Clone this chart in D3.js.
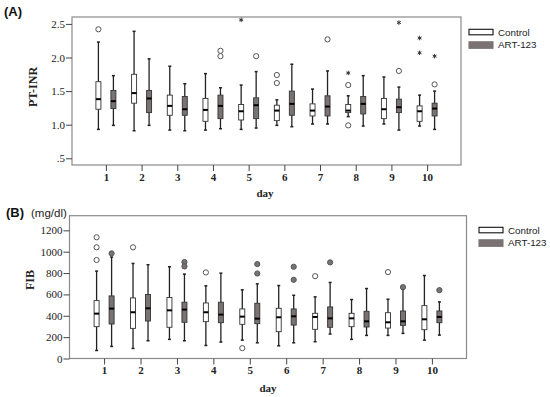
<!DOCTYPE html>
<html>
<head>
<meta charset="utf-8">
<script src="https://cdn.jsdelivr.net/npm/d3@7"></script>
<style>
  html, body { margin: 0; padding: 0; background: #fff; }
  svg { display: block; }
</style>
</head>
<body>
<svg id="chart" width="550" height="397"></svg>
<script>
// ---------- DATA ----------
const days = [1, 2, 3, 4, 5, 6, 7, 8, 9, 10];
const groups = ["Control", "ART-123"];

// Panel A: PT-INR
const inrCtrlLow    = [0.93, 0.91, 0.92, 0.92, 0.93, 0.99, 1.01, 1.12, 1.01, 0.98];
const inrCtrlQ1     = [1.23, 1.32, 1.14, 1.05, 1.07, 1.06, 1.13, 1.18, 1.09, 1.05];
const inrCtrlMed    = [1.38, 1.47, 1.28, 1.22, 1.20, 1.21, 1.21, 1.21, 1.23, 1.20];
const inrCtrlQ3     = [1.64, 1.75, 1.44, 1.39, 1.30, 1.29, 1.31, 1.30, 1.39, 1.28];
const inrCtrlHigh   = [2.23, 2.39, 1.87, 1.76, 1.59, 1.37, 1.53, 1.43, 1.71, 1.44];
const inrCtrlOut    = [[2.42], [], [], [], [], [1.74, 1.62], [], [1.59, 0.99], [], []];
const inrCtrlExt    = [[], [], [], [], [2.56], [], [], [1.77], [], [2.29, 2.07]];

const inrArtLow     = [0.99, 0.99, 0.91, 0.94, 0.95, 0.97, 1.01, 0.98, 0.92, 0.93];
const inrArtQ1      = [1.24, 1.18, 1.14, 1.09, 1.09, 1.14, 1.13, 1.16, 1.18, 1.13];
const inrArtMed     = [1.35, 1.39, 1.23, 1.28, 1.29, 1.31, 1.27, 1.31, 1.26, 1.24];
const inrArtQ3      = [1.51, 1.51, 1.42, 1.44, 1.40, 1.50, 1.43, 1.42, 1.38, 1.32];
const inrArtHigh    = [1.73, 1.98, 1.61, 1.55, 1.79, 1.90, 1.80, 1.73, 1.56, 1.50];
const inrArtOut     = [[], [], [], [2.10, 2.02], [2.02], [], [2.27], [], [1.80], [1.60]];
const inrArtExt     = [[], [], [], [], [], [], [], [], [2.52], [2.02]];

const inrTicks = [0.5, 1.0, 1.5, 2.0, 2.5];
const inrTickLabels = [".5", "1.0", "1.5", "2.0", "2.5"];

// Panel B: FIB (mg/dl)
const fibCtrlLow    = [75, 94, 179, 122, 172, 119, 157, 179, 216, 172];
const fibCtrlQ1     = [298, 282, 292, 345, 320, 251, 273, 298, 285, 270];
const fibCtrlMed    = [420, 433, 451, 433, 392, 386, 389, 376, 339, 367];
const fibCtrlQ3     = [542, 567, 571, 520, 464, 470, 423, 423, 429, 495];
const fibCtrlHigh   = [818, 890, 859, 680, 643, 683, 577, 552, 555, 777];
const fibCtrlOut    = [[1135, 1041, 922], [1041], [], [806], [97], [], [771], [], [809], []];

const fibArtLow     = [113, 166, 166, 154, 147, 147, 229, 216, 235, 219];
const fibArtQ1      = [323, 351, 339, 335, 326, 313, 292, 295, 310, 335];
const fibArtMed     = [467, 470, 458, 411, 373, 395, 376, 348, 348, 389];
const fibArtQ3      = [586, 599, 527, 527, 517, 464, 483, 442, 445, 445];
const fibArtHigh    = [950, 878, 790, 799, 699, 592, 712, 655, 650, 530];
const fibArtOut     = [[984], [], [903, 862], [], [884, 796], [859, 737], [900], [], [668], [640]];

const fibTicks = [0, 200, 400, 600, 800, 1000, 1200];

// ---------- STYLE ----------
const ctrlFill = "#ffffff";
const artFill = "#7b7373";
const serif = "'Liberation Serif', 'Times New Roman', serif";
const sans = "'Liberation Sans', Arial, sans-serif";

const svg = d3.select("#chart");

function buildRows(g, low, q1, med, q3, high, out, ext) {
  return days.map((d, i) => ({
    day: d, group: g, low: low[i], q1: q1[i], med: med[i], q3: q3[i], high: high[i],
    out: out ? out[i] : [], ext: ext ? ext[i] : []
  }));
}

function drawPanel(cfg) {
  const { left, right, top, bottom, yDomain, ticks, tickFmt, rows, outFilledArt } = cfg;
  const x = d3.scalePoint().domain(days).range([left, right]).padding(0.95);
  const xo = d3.scalePoint().domain(groups).range([-7.5, 7.5]);
  const y = d3.scaleLinear().domain(yDomain).range([bottom, top]);

  const g = svg.append("g");

  // frame
  g.append("rect").attr("x", left).attr("y", top)
    .attr("width", right - left).attr("height", bottom - top)
    .attr("fill", "none").attr("stroke", "#8a8a8a").attr("stroke-width", 1.2);

  // y axis
  const ya = g.append("g").attr("transform", `translate(${left},0)`)
    .call(d3.axisLeft(y).tickValues(ticks).tickSize(6).tickFormat((d, i) => tickFmt(d, i)));
  ya.select(".domain").remove();
  ya.selectAll(".tick line").attr("stroke", "#444");
  ya.selectAll(".tick text").attr("font-family", serif).attr("font-size", 11)
    .attr("fill", "#222").attr("x", -7);

  // x axis
  const xa = g.append("g").attr("transform", `translate(0,${bottom})`)
    .call(d3.axisBottom(x).tickSize(6).tickPadding(2));
  xa.select(".domain").remove();
  xa.selectAll(".tick line").attr("stroke", "#444");
  xa.selectAll(".tick text").attr("font-family", serif).attr("font-size", 11)
    .attr("font-weight", "bold").attr("fill", "#222");

  const bw = 5;
  const boxes = g.selectAll("g.box").data(rows).join("g").attr("class", "box")
    .attr("transform", d => `translate(${x(d.day) + xo(d.group)},0)`);

  // whiskers
  boxes.append("line").attr("x1", 0).attr("x2", 0)
    .attr("y1", d => y(d.low)).attr("y2", d => y(d.q1))
    .attr("stroke", "#222").attr("stroke-width", 1.3);
  boxes.append("line").attr("x1", 0).attr("x2", 0)
    .attr("y1", d => y(d.q3)).attr("y2", d => y(d.high))
    .attr("stroke", "#222").attr("stroke-width", 1.3);
  // caps
  boxes.append("line").attr("x1", -1.5).attr("x2", 1.5)
    .attr("y1", d => y(d.low)).attr("y2", d => y(d.low))
    .attr("stroke", "#222").attr("stroke-width", 1.5);
  boxes.append("line").attr("x1", -1.5).attr("x2", 1.5)
    .attr("y1", d => y(d.high)).attr("y2", d => y(d.high))
    .attr("stroke", "#222").attr("stroke-width", 1.5);
  // box
  boxes.append("rect").attr("x", -bw / 2).attr("width", bw)
    .attr("y", d => y(d.q3)).attr("height", d => y(d.q1) - y(d.q3))
    .attr("fill", d => d.group === "Control" ? ctrlFill : artFill)
    .attr("stroke", "#333").attr("stroke-width", 0.9);
  // median
  boxes.append("line").attr("x1", -bw / 2).attr("x2", bw / 2)
    .attr("y1", d => y(d.med)).attr("y2", d => y(d.med))
    .attr("stroke", "#000").attr("stroke-width", 2);
  // outliers (circles)
  boxes.selectAll("circle").data(d => d.out.map(v => ({ v, group: d.group }))).join("circle")
    .attr("cx", 0).attr("cy", d => y(d.v)).attr("r", 2.6)
    .attr("fill", d => (outFilledArt && d.group !== "Control") ? artFill : "#fff")
    .attr("stroke", "#555").attr("stroke-width", 1);
  // extremes (stars)
  const star = d3.symbol().type(d3.symbolAsterisk).size(14);
  boxes.selectAll("path.ext").data(d => d.ext.map(v => ({ v }))).join("path").attr("class", "ext")
    .attr("d", star).attr("transform", d => `translate(0,${y(d.v)})`)
    .attr("stroke", "#333").attr("stroke-width", 1).attr("fill", "none");

  return { x, y };
}

// ---------- PANEL A ----------
const rowsA = [
  ...buildRows("Control", inrCtrlLow, inrCtrlQ1, inrCtrlMed, inrCtrlQ3, inrCtrlHigh, inrCtrlOut, inrCtrlExt),
  ...buildRows("ART-123", inrArtLow, inrArtQ1, inrArtMed, inrArtQ3, inrArtHigh, inrArtOut, inrArtExt)
];
drawPanel({
  left: 72, right: 461, top: 17, bottom: 165,
  yDomain: [0.4, 2.603], ticks: inrTicks,
  tickFmt: (d, i) => inrTickLabels[inrTicks.indexOf(d)],
  rows: rowsA, outFilledArt: false
});

// ---------- PANEL B ----------
const rowsB = [
  ...buildRows("Control", fibCtrlLow, fibCtrlQ1, fibCtrlMed, fibCtrlQ3, fibCtrlHigh, fibCtrlOut, null),
  ...buildRows("ART-123", fibArtLow, fibArtQ1, fibArtMed, fibArtQ3, fibArtHigh, fibArtOut, null)
];
drawPanel({
  left: 69.5, right: 466.5, top: 215.7, bottom: 358.5,
  yDomain: [0, 1337], ticks: fibTicks,
  tickFmt: d => String(d),
  rows: rowsB, outFilledArt: true
});

// ---------- TEXT ----------
svg.append("text").attr("x", 4).attr("y", 16).text("(A)")
  .attr("font-family", sans).attr("font-weight", "bold").attr("font-size", 13).attr("fill", "#111");
svg.append("text").attr("x", 6).attr("y", 217).text("(B)")
  .attr("font-family", sans).attr("font-weight", "bold").attr("font-size", 13).attr("fill", "#111");
svg.append("text").attr("x", 31).attr("y", 217).text("(mg/dl)")
  .attr("font-family", sans).attr("font-size", 11.5).attr("fill", "#222");

svg.append("text").attr("transform", "translate(37,87) rotate(-90)").attr("text-anchor", "middle")
  .text("PT-INR").attr("font-family", serif).attr("font-weight", "bold").attr("font-size", 12).attr("fill", "#222");
svg.append("text").attr("transform", "translate(34,280) rotate(-90)").attr("text-anchor", "middle")
  .text("FIB").attr("font-family", serif).attr("font-weight", "bold").attr("font-size", 12).attr("fill", "#222");

svg.append("text").attr("x", 265).attr("y", 197).attr("text-anchor", "middle").text("day")
  .attr("font-family", serif).attr("font-weight", "bold").attr("font-size", 11).attr("fill", "#222");
svg.append("text").attr("x", 268).attr("y", 392).attr("text-anchor", "middle").text("day")
  .attr("font-family", serif).attr("font-weight", "bold").attr("font-size", 11).attr("fill", "#222");

// ---------- LEGENDS ----------
function legend(x0, y0) {
  const lg = svg.append("g").attr("transform", `translate(${x0},${y0})`);
  const items = lg.selectAll("g").data(groups).join("g")
    .attr("transform", (d, i) => `translate(0,${i * 12.5})`);
  items.append("rect").attr("x", 0).attr("y", 0).attr("width", 24).attr("height", d => d === "Control" ? 5.5 : 6.5)
    .attr("fill", d => d === "Control" ? ctrlFill : artFill)
    .attr("stroke", d => d === "Control" ? "#111" : artFill).attr("stroke-width", 1.1);
  items.append("text").attr("x", 29).attr("y", 3).attr("dy", "0.35em").text(d => d)
    .attr("font-family", sans).attr("font-size", 9.8).attr("fill", "#222");
}
legend(469, 29.3);
legend(479, 227.3);
</script>
</body>
</html>
